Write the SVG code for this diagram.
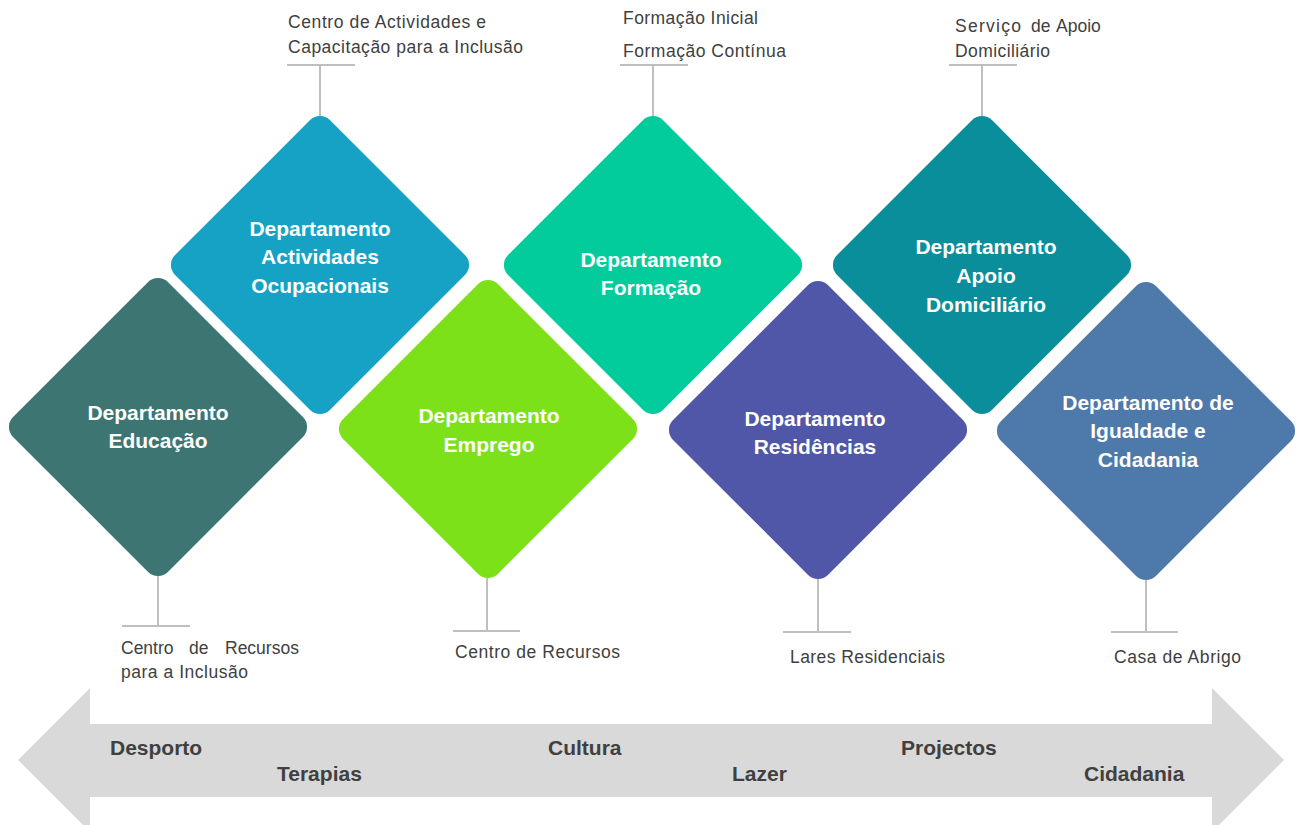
<svg xmlns="http://www.w3.org/2000/svg" width="1302" height="825" viewBox="0 0 1302 825">
<style>
.dia{stroke:none}
.dt{font-family:"Liberation Sans",Arial,sans-serif;font-weight:bold;font-size:21px;fill:#ffffff;text-anchor:middle}
.lb{font-family:"Liberation Sans",Arial,sans-serif;font-size:17.5px;fill:#404040}
.at{font-family:"Liberation Sans",Arial,sans-serif;font-weight:bold;font-size:21px;fill:#404040}
.cn{stroke:#bfbfbf;stroke-width:2;fill:none}
</style>
<defs>
<rect id="d" x="-109.5" y="-109.5" width="219" height="219" rx="14" ry="14" transform="rotate(45)"/>
</defs>
<rect width="1302" height="825" fill="#ffffff"/>
<g id="band">
<polygon points="18,760 90,688 90,724 1212,724 1212,688 1284,760 1212,832 1212,797 90,797 90,832" fill="#d9d9d9"/>
<text class="at" x="110" y="755">Desporto</text>
<text class="at" x="277" y="781">Terapias</text>
<text class="at" x="548" y="755">Cultura</text>
<text class="at" x="732" y="781">Lazer</text>
<text class="at" x="901" y="755">Projectos</text>
<text class="at" x="1084" y="781">Cidadania</text>
</g>
<g id="connectors">
<path class="cn" d="M320,117V65M287,65H355"/>
<path class="cn" d="M653,117V65M620,65H688"/>
<path class="cn" d="M982,117V65M949,65H1017"/>
<path class="cn" d="M158,575V626M122,626H190"/>
<path class="cn" d="M487,578V631M453,631H520"/>
<path class="cn" d="M818,579V632M783,632H851"/>
<path class="cn" d="M1146,579V632M1111,632H1178"/>
</g>
<g id="labels">
<text class="lb" y="28"><tspan x="288" textLength="198" lengthAdjust="spacing">Centro de Actividades e</tspan><tspan x="288" y="53" textLength="235" lengthAdjust="spacing">Capacitação para a Inclusão</tspan></text>
<text class="lb" x="623" y="24" textLength="135" lengthAdjust="spacing">Formação Inicial</text>
<text class="lb" x="623" y="57" textLength="163" lengthAdjust="spacing">Formação Contínua</text>
<text class="lb" y="32"><tspan x="955" textLength="66" lengthAdjust="spacing">Serviço</tspan><tspan x="1031">de</tspan><tspan x="1056">Apoio</tspan></text>
<text class="lb" x="955" y="57" textLength="95" lengthAdjust="spacing">Domiciliário</text>
<text class="lb" y="654"><tspan x="121">Centro</tspan><tspan x="189">de</tspan><tspan x="225">Recursos</tspan></text>
<text class="lb" x="121" y="678" textLength="127" lengthAdjust="spacing">para a Inclusão</text>
<text class="lb" x="455" y="658" textLength="165" lengthAdjust="spacing">Centro de Recursos</text>
<text class="lb" x="790" y="663" textLength="155" lengthAdjust="spacing">Lares Residenciais</text>
<text class="lb" x="1114" y="663" textLength="127" lengthAdjust="spacing">Casa de Abrigo</text>
</g>
<g id="n-educacao">
<use href="#d" transform="translate(158,427)" fill="#3d7573"/>
<text class="dt" x="158" y="420">Departamento</text>
<text class="dt" x="158" y="448">Educação</text>
</g>
<g id="n-actividades">
<use href="#d" transform="translate(320,265)" fill="#16a2c4"/>
<text class="dt" x="320" y="236">Departamento</text>
<text class="dt" x="320" y="264">Actividades</text>
<text class="dt" x="320" y="293">Ocupacionais</text>
</g>
<g id="n-emprego">
<use href="#d" transform="translate(488,429)" fill="#7de11a"/>
<text class="dt" x="489" y="423">Departamento</text>
<text class="dt" x="489" y="452">Emprego</text>
</g>
<g id="n-formacao">
<use href="#d" transform="translate(653,265)" fill="#03cc9c"/>
<text class="dt" x="651" y="267">Departamento</text>
<text class="dt" x="651" y="295">Formação</text>
</g>
<g id="n-residencias">
<use href="#d" transform="translate(818,430)" fill="#5056a8"/>
<text class="dt" x="815" y="426">Departamento</text>
<text class="dt" x="815" y="454">Residências</text>
</g>
<g id="n-apoio">
<use href="#d" transform="translate(982,265)" fill="#0a8e9c"/>
<text class="dt" x="986" y="254">Departamento</text>
<text class="dt" x="986" y="283">Apoio</text>
<text class="dt" x="986" y="312">Domiciliário</text>
</g>
<g id="n-igualdade">
<use href="#d" transform="translate(1146,431)" fill="#4e79ab"/>
<text class="dt" x="1148" y="410">Departamento de</text>
<text class="dt" x="1148" y="438">Igualdade e</text>
<text class="dt" x="1148" y="467">Cidadania</text>
</g>
</svg>
